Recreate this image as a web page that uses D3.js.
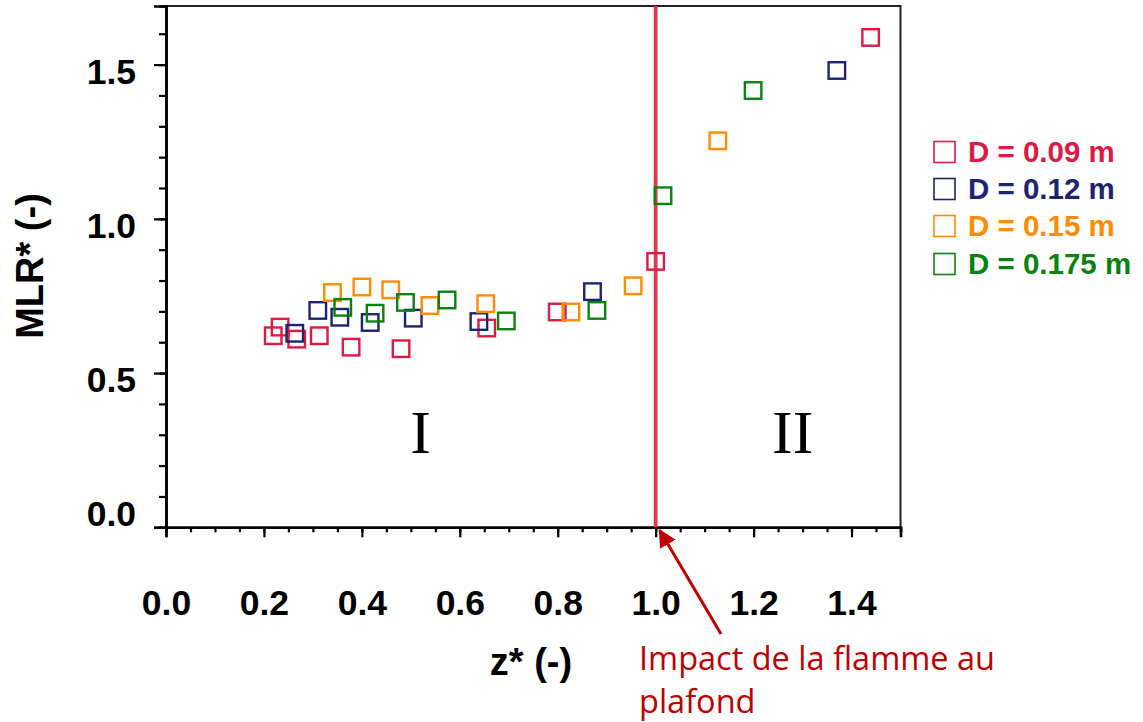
<!DOCTYPE html>
<meta charset="utf-8">
<title>MLR* vs z*</title>
<head>
  <script src="https://d3js.org/d3.v7.min.js"></script>
  <style>
    body { margin: 0; background: #fff; }
    svg text { font-family: "Liberation Sans", Arial, sans-serif; }
  </style>
</head>
<body>
  <div id="chart"></div>
  <script>
    // series: diameters and their colours
    var diameters = ["D = 0.09 m", "D = 0.12 m", "D = 0.15 m", "D = 0.175 m"]
    var colors = ["#dc1a44", "#1b2470", "#ff8c00", "#0a820f"]

    // z* and MLR*, one pair of arrays per diameter
    var z009 = [0.219, 0.233, 0.267, 0.313, 0.378, 0.480, 0.655, 0.799, 1.000, 1.439]
    var mlr009 = [0.621, 0.649, 0.610, 0.621, 0.584, 0.579, 0.646, 0.698, 0.862, 1.588]
    var z012 = [0.263, 0.310, 0.355, 0.417, 0.505, 0.639, 0.871, 1.370]
    var mlr012 = [0.629, 0.703, 0.681, 0.664, 0.678, 0.667, 0.764, 1.481]
    var z015 = [0.340, 0.400, 0.459, 0.539, 0.653, 0.827, 0.954, 1.127]
    var mlr015 = [0.761, 0.779, 0.770, 0.719, 0.725, 0.698, 0.783, 1.253]
    var z0175 = [0.361, 0.427, 0.489, 0.574, 0.695, 0.880, 1.015, 1.199]
    var mlr0175 = [0.713, 0.694, 0.729, 0.737, 0.669, 0.703, 1.075, 1.416]

    var xTicks = [0.0, 0.2, 0.4, 0.6, 0.8, 1.0, 1.2, 1.4]
    var yTicks = [0.0, 0.5, 1.0, 1.5]
    var impactZ = 1.0
    var zones = [{ label: "I", z: 0.52 }, { label: "II", z: 1.28 }]

    var series = [
      { name: diameters[0], color: colors[0], z: z009, mlr: mlr009 },
      { name: diameters[1], color: colors[1], z: z012, mlr: mlr012 },
      { name: diameters[2], color: colors[2], z: z015, mlr: mlr015 },
      { name: diameters[3], color: colors[3], z: z0175, mlr: mlr0175 }
    ]

    function draw() {
      var width = 1143
      var height = 722
      var m = { left: 166, right: 900.5, top: 6, bottom: 527.3 }

      var svg = d3.select("#chart").append("svg")
        .attr("width", width)
        .attr("height", height)

      var x = d3.scaleLinear().domain([0, 1.5]).range([m.left, m.right])
      var y = d3.scaleLinear().domain([0, 1.69]).range([m.bottom, m.top])

      // frame (top and right sides)
      svg.append("path")
        .attr("d", "M" + m.left + "," + m.top + "H" + m.right + "V" + m.bottom)
        .attr("fill", "none")
        .attr("stroke", "#222")
        .attr("stroke-width", 2)

      // minor ticks
      var xAxisMinor = d3.axisBottom(x).tickValues(d3.range(0, 1.5001, 0.05)).tickSize(5).tickFormat("")
      var yAxisMinor = d3.axisLeft(y).tickValues(d3.range(0, 1.6501, 0.1)).tickSize(7).tickFormat("")
      svg.append("g").attr("transform", "translate(0," + m.bottom + ")").call(xAxisMinor)
      svg.append("g").attr("transform", "translate(" + m.left + ",0)").call(yAxisMinor)

      // major ticks + labels
      var xAxis = d3.axisBottom(x).tickValues(xTicks).tickSize(10).tickPadding(52).tickFormat(d3.format(".1f"))
      var yAxis = d3.axisLeft(y).tickValues(yTicks).tickSize(12).tickPadding(18).tickFormat(d3.format(".1f"))
      svg.append("g").attr("transform", "translate(0," + m.bottom + ")").call(xAxis)
      var gy = svg.append("g").attr("transform", "translate(" + m.left + ",0)").call(yAxis)

      svg.selectAll(".domain").attr("stroke", "#000").attr("stroke-width", 2.6)
      svg.selectAll(".tick line").attr("stroke", "#000").attr("stroke-width", 2.2)
      svg.selectAll(".tick text")
        .attr("fill", "#000")
        .style("font-size", "35.5px")
        .style("font-weight", "bold")
      gy.selectAll(".tick text").attr("dy", function(d) { return d === 0 ? "-0.05em" : "0.52em" })

      // axis titles
      svg.append("text")
        .attr("transform", "translate(43,266) rotate(-90)")
        .attr("text-anchor", "middle")
        .style("font-size", "38px")
        .style("font-weight", "bold")
        .text("MLR* (-)")

      svg.append("text")
        .attr("x", 531)
        .attr("y", 675)
        .attr("text-anchor", "middle")
        .style("font-size", "38px")
        .style("font-weight", "bold")
        .text("z* (-)")

      // flame impact line
      svg.append("line")
        .attr("x1", x(impactZ)).attr("x2", x(impactZ))
        .attr("y1", m.top).attr("y2", m.bottom)
        .attr("stroke", "#e5364f")
        .attr("stroke-width", 3.8)

      // zone labels
      svg.selectAll(".zone")
        .data(zones)
        .enter().append("text")
        .attr("class", "zone")
        .attr("x", function(d) { return x(d.z) })
        .attr("y", 453)
        .attr("text-anchor", "middle")
        .style("font-family", "'Liberation Serif', 'Times New Roman', serif")
        .style("font-size", "62px")
        .text(function(d) { return d.label })

      // points
      var s = 16.5
      series.forEach(function(ser) {
        svg.append("g")
          .selectAll("rect")
          .data(ser.z.map(function(v, i) { return [v, ser.mlr[i]] }))
          .enter().append("rect")
          .attr("x", function(d) { return x(d[0]) - s / 2 })
          .attr("y", function(d) { return y(d[1]) - s / 2 })
          .attr("width", s)
          .attr("height", s)
          .attr("fill", "none")
          .attr("stroke", ser.color)
          .attr("stroke-width", 2.4)
      })

      // legend
      var legend = svg.append("g").attr("transform", "translate(933,0)")
      var rowY = [152, 189, 226, 264]
      series.forEach(function(ser, i) {
        legend.append("rect")
          .attr("x", 1)
          .attr("y", rowY[i] - 10.5)
          .attr("width", 21)
          .attr("height", 21)
          .attr("fill", "none")
          .attr("stroke", ser.color)
          .attr("stroke-width", 1.6)
        legend.append("text")
          .attr("x", 35)
          .attr("y", rowY[i] + 10)
          .attr("fill", ser.color)
          .style("font-size", "29.5px")
          .style("font-weight", "bold")
          .text(ser.name)
      })

      // annotation arrow
      svg.append("defs").append("marker")
        .attr("id", "head")
        .attr("viewBox", "0 0 10 10")
        .attr("refX", 9)
        .attr("refY", 5)
        .attr("markerWidth", 6)
        .attr("markerHeight", 6)
        .attr("markerUnits", "strokeWidth")
        .attr("orient", "auto")
        .append("path")
        .attr("d", "M0,0L10,5L0,10z")
        .attr("fill", "#c00000")

      svg.append("line")
        .attr("x1", 721).attr("y1", 634)
        .attr("x2", x(impactZ) + 4).attr("y2", m.bottom + 3)
        .attr("stroke", "#c00000")
        .attr("stroke-width", 3)
        .attr("marker-end", "url(#head)")

      var note = svg.append("text")
        .attr("fill", "#c00000")
        .style("font-family", "'Open Sans', Lato, sans-serif")
        .style("font-size", "32.5px")
      note.append("tspan").attr("x", 639).attr("y", 670).text("Impact de la flamme au")
      note.append("tspan").attr("x", 639).attr("y", 713).text("plafond")
    }

    draw()
  </script>
</body>
